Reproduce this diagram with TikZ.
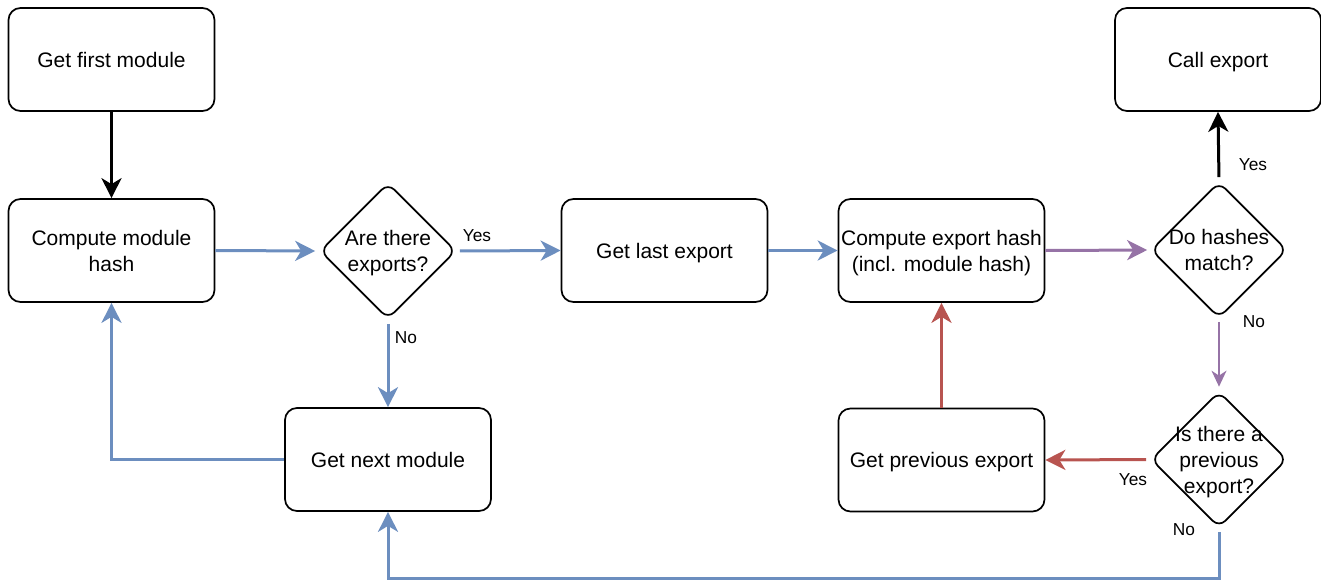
\documentclass[tikz,border=0pt]{standalone}
\usepackage{fontspec}
\setmainfont{Liberation Sans}
\usetikzlibrary{arrows.meta,shapes.geometric}
\definecolor{cblue}{HTML}{6C8EBF}
\definecolor{cred}{HTML}{B85450}
\definecolor{cpurple}{HTML}{9673A6}
\tikzset{
  box/.style={draw=black, line width=1.7pt, rounded corners=12pt, minimum width=206pt, minimum height=103pt, inner sep=0pt, align=center, text depth=0pt, font=\fontsize{21}{26}\selectfont},
  dia/.style={draw=black, line width=1.7pt, diamond, rounded corners=9pt, minimum width=136pt, minimum height=136pt, inner sep=0pt},
  diatext/.style={align=center, inner sep=0pt, text depth=0pt, font=\fontsize{21}{26}\selectfont},
  lbl/.style={inner sep=0pt, font=\fontsize{17.3}{20}\selectfont},
  conn/.style={line width=3pt, -{Stealth[length=20pt,width=20pt,inset=6pt]}},
  thinconn/.style={line width=1.6pt, -{Stealth[length=16pt,width=15pt,inset=5pt]}},
}
\begin{document}
\begin{tikzpicture}[x=1pt,y=-1pt]
\useasboundingbox (0,0) rectangle (1321,581);
% nodes
\node[box] (gfm) at (111.5,59.5) {Get first module};
\node[box] (cmh) at (111.5,250.5) {Compute module\\hash};
\node[dia] (d1) at (388,251) {};
\node[diatext] (d1t) at (d1) {Are there\\exports?};
\node[box] (gle) at (664.5,250.5) {Get last export};
\node[box] (ceh) at (941.5,250.5) {Compute export hash\\(incl. module hash)};
\node[dia] (d2) at (1219,250) {};
\node[diatext] (d2t) at (d2) {Do hashes\\match?};
\node[box] (call) at (1218,59.5) {Call export};
\node[box] (gnm) at (388,459.5) {Get next module};
\node[box] (gpe) at (941.5,460) {Get previous export};
\node[dia] (d3) at (1219,459.5) {};
\node[diatext] (d3t) at (d3) {Is there a\\previous\\export?};
% free coordinate for the bottom run
\coordinate (bot) at (0,578);
% connectors
\draw[conn,black] (gfm.south) -- (cmh.north);
\draw[conn,cblue,shorten >=4pt] (cmh.east) -- (d1.west);
\draw[conn,cblue,shorten <=3pt] (d1.east) -- (gle.west);
\draw[conn,cblue,shorten <=4pt] (d1.south) -- (gnm.north);
\draw[conn,cblue] (gle.east) -- (ceh.west);
\draw[conn,cpurple,shorten >=3pt] (ceh.east) -- (d2.west);
\draw[conn,black,shorten <=4pt] (d2.north) -- (call.south);
\draw[thinconn,cpurple,shorten <=3pt,shorten >=4pt] (d2.south) -- (d3.north);
\draw[conn,cred,shorten <=4pt] (d3.west) -- (gpe.east);
\draw[conn,cred] (gpe.north) -- (ceh.south);
\draw[conn,cblue,shorten <=4pt] (d3.south) -- (d3.south |- bot) -| (gnm.south);
\draw[conn,cblue] (gnm.west) -| (cmh.south);
% labels
\node[lbl] (l1) at (477,236) {Yes};
\node[lbl] (l2) at (406,338) {No};
\node[lbl] (l3) at (1253,165) {Yes};
\node[lbl] (l4) at (1254,322) {No};
\node[lbl] (l5) at (1133,480) {Yes};
\node[lbl] (l6) at (1184,530) {No};
\end{tikzpicture}
\end{document}
